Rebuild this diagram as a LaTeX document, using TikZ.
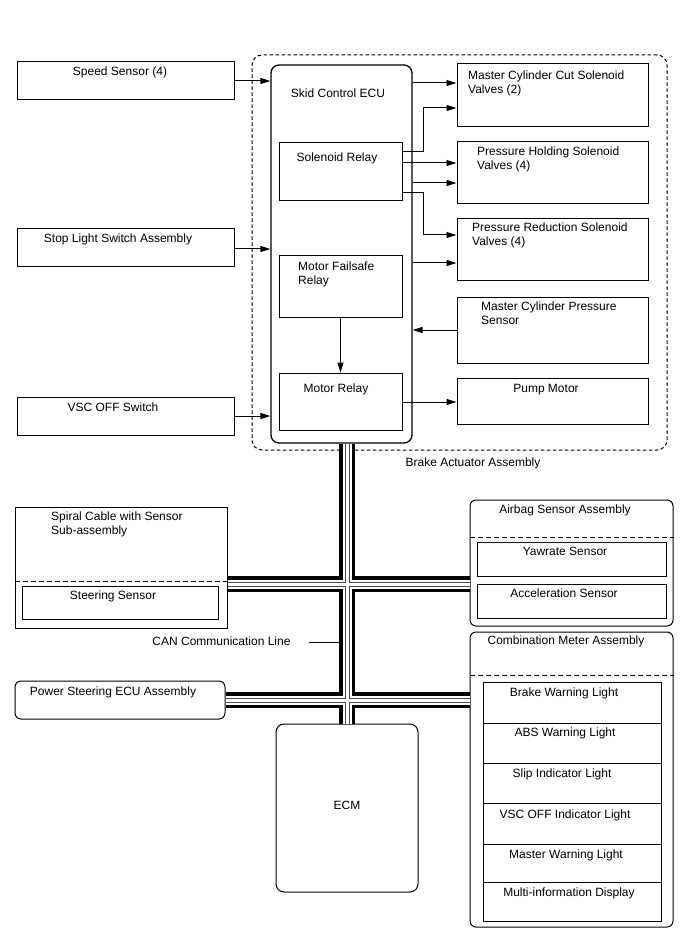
\documentclass[tikz,border=0pt]{standalone}
\usepackage{fontspec}
\setmainfont{Liberation Sans}
\usetikzlibrary{arrows.meta}
\newcommand\myBusPath{(347,0 |- ecu.south) -- (347,0 |- ecm.north)
  (spiral.east |- 0,584) -- (airbag.west |- 0,584)
  (pseu.east) -- (combo.west |- pseu.east)}
\begin{document}
\begin{tikzpicture}[x=1pt,y=-1pt,
  bx/.style 2 args={draw,line width=1pt,inner sep=0pt,minimum width=#1,minimum height=#2},
  txt/.style={inner sep=0pt,font=\fontsize{12}{14}\selectfont},
  ml/.style={txt,align=left,anchor=north west},
  arr/.style={line width=1pt,-{Triangle[length=10pt,width=6pt]}},
  sep/.style={line width=1pt,dash pattern=on 5pt off 3pt}]
\useasboundingbox (0,0) rectangle (688,949);

% ---------- brake actuator ----------
\node (act) [draw,dash pattern=on 3.5pt off 2.5pt,rounded corners=10pt,line width=1pt,inner sep=0pt,minimum width=415,minimum height=395] at (459.5,252.5) {};
\node (actlbl) [txt] at (473,463) {Brake Actuator Assembly};

\node (ecu) [bx={141}{378},rounded corners=8pt,line width=1.3pt] at (341.5,254) {};
\node (ecutxt) [txt,anchor=mid] at (338,95) {Skid Control ECU};

\node (solrelay) [bx={123}{58}] at (340.5,172) {};
\node (soltxt) [txt,anchor=mid] at (337,159) {Solenoid Relay};
\node (mfsr) [bx={123}{61}] at (340.5,286.5) {};
\node (mfsrtxt) [ml] at (298,262) {Motor Failsafe\\Relay};
\node (mrelay) [bx={123}{57}] at (340.5,401.5) {};
\node (mrtxt) [txt,anchor=mid] at (336,390) {Motor Relay};

\node (mcc) [bx={191}{63}] at (552.5,95.5) {};
\node (mcctxt) [ml] at (468,71) {Master Cylinder Cut Solenoid\\Valves (2)};
\node (phs) [bx={191}{62}] at (552.5,173) {};
\node (phstxt) [ml] at (477,147) {Pressure Holding Solenoid\\Valves (4)};
\node (prs) [bx={191}{62}] at (552.5,250) {};
\node (prstxt) [ml] at (472,223) {Pressure Reduction Solenoid\\Valves (4)};
\node (mcps) [bx={191}{66}] at (552.5,330) {};
\node (mcpstxt) [ml] at (481,302) {Master Cylinder Pressure\\Sensor};
\node (pump) [bx={191}{46}] at (552.5,401) {};
\node (pumptxt) [txt,anchor=mid] at (546,390) {Pump Motor};

% ---------- left inputs ----------
\node (speed) [bx={217}{38}] at (125.5,81) {};
\node (speedtxt) [txt,anchor=mid] at (120,73) {Speed Sensor (4)};
\node (stop) [bx={217}{38}] at (125.5,248) {};
\node (stoptxt) [txt,anchor=mid] at (118,240) {Stop Light Switch Assembly};
\node (vsc) [bx={217}{38}] at (125.5,416) {};
\node (vsctxt) [txt,anchor=mid] at (113,409) {VSC OFF Switch};

% ---------- arrows ----------
\draw[arr] (speed.east) -- (speed.east -| ecu.west);
\draw[arr] (stop.east |- 0,249) -- (ecu.west |- 0,249);
\draw[arr] (vsc.east) -- (vsc.east -| ecu.west);
\draw[arr] (ecu.east |- 0,83) -- (mcc.west |- 0,83);
\draw[arr] (solrelay.east |- 0,152) -- ++(21,0) |- (mcc.west |- 0,108);
\draw[arr] (solrelay.east |- 0,163) -- (phs.west |- 0,163);
\draw[arr] (ecu.east |- 0,183) -- (phs.west |- 0,183);
\draw[arr] (solrelay.east |- 0,193) -- ++(21,0) |- (prs.west |- 0,235);
\draw[arr] (ecu.east |- 0,263) -- (prs.west |- 0,263);
\draw[arr] (mcps.west |- 0,330) -- (ecu.east |- 0,330);
\draw[arr] (mrelay.east |- 0,402) -- (pump.west |- 0,402);
\draw[arr] (mfsr.south) -- (mrelay.north);

% ---------- lower modules ----------
\node (spiral) [bx={212}{121}] at (121,567.5) {};
\node (spiraltxt) [ml] at (51,512) {Spiral Cable with Sensor\\Sub-assembly};
\draw[sep] (spiral.west |- 0,581) -- (spiral.east |- 0,581);
\node (steer) [bx={196}{33}] at (120,602.5) {};
\node (steertxt) [txt,anchor=mid] at (113,597) {Steering Sensor};

\node (pseu) [bx={210}{38},rounded corners=6pt] at (120,700) {};
\node (pseutxt) [txt,anchor=mid] at (113,693) {Power Steering ECU Assembly};

\node (airbag) [bx={203}{126},rounded corners=6pt] at (571.5,563) {};
\node (airbagtxt) [txt,anchor=mid] at (565,511) {Airbag Sensor Assembly};
\draw[sep] (airbag.west |- 0,537) -- (airbag.east |- 0,537);
\node (yaw) [bx={189}{34}] at (571.5,559) {};
\node (yawtxt) [txt,anchor=mid] at (565,553) {Yawrate Sensor};
\node (accel) [bx={189}{34}] at (571.5,601) {};
\node (acceltxt) [txt,anchor=mid] at (564,595) {Acceleration Sensor};

\node (combo) [bx={203}{295},rounded corners=6pt] at (571.5,779.5) {};
\node (combotxt) [txt,anchor=mid] at (566,642) {Combination Meter Assembly};
\draw[sep] (combo.west |- 0,675) -- (combo.east |- 0,675);
\node (l1) [bx={178}{41}] at (572,702.5) {};
\node (l2) [bx={178}{40}] at (572,743) {};
\node (l3) [bx={178}{40}] at (572,783) {};
\node (l4) [bx={178}{41}] at (572,823.5) {};
\node (l5) [bx={178}{38}] at (572,863) {};
\node (l6) [bx={178}{39}] at (572,901.5) {};
\node (l1t) [txt,anchor=mid] at (564,694) {Brake Warning Light};
\node (l2t) [txt,anchor=mid] at (565,734) {ABS Warning Light};
\node (l3t) [txt,anchor=mid] at (562,775) {Slip Indicator Light};
\node (l4t) [txt,anchor=mid] at (565,816) {VSC OFF Indicator Light};
\node (l5t) [txt,anchor=mid] at (566,856) {Master Warning Light};
\node (l6t) [txt,anchor=mid] at (569,894) {Multi-information Display};

\node (ecm) [bx={142}{168},rounded corners=8pt] at (347,808) {};
\node (ecmtxt) [txt,anchor=mid] at (347,807) {ECM};

% ---------- CAN bus ----------
\draw[line width=16pt,black] \myBusPath;
\draw[line width=9pt,white] \myBusPath;
\draw[line width=5pt,black!70] \myBusPath;
\draw[line width=3pt,white] \myBusPath;

\node (cantxt) [txt,anchor=mid] at (221.5,643) {CAN Communication Line};
\coordinate (canlead) at (309,642);
\draw[line width=0.8pt] (canlead) -- (canlead -| 339,0);
\end{tikzpicture}
\end{document}
